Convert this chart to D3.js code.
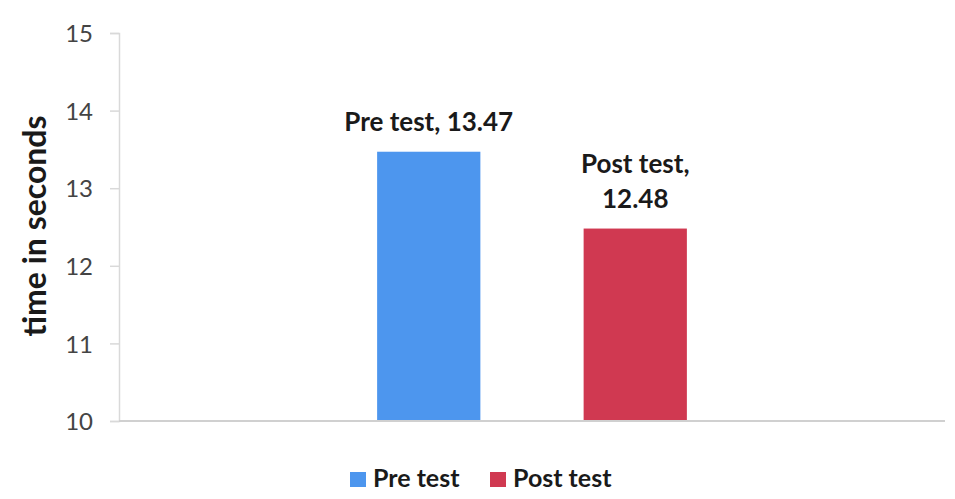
<!DOCTYPE html>
<html>
<head>
<meta charset="utf-8">
<script src="https://cdn.jsdelivr.net/npm/d3@7"></script>
<style>
  body { margin: 0; background: #fff; }
  svg { font-family: Lato, "Open Sans", sans-serif; }
</style>
</head>
<body>
<div class="chart"></div>
<script>
var width = 955, height = 499;
var margin = {top: 33, right: 10, bottom: 78, left: 119};

// data
var categories = [""];
var series = ["Pre test", "Post test"];
var values = [13.47, 12.48];
var colors = ["#4d96ee", "#d03951"];
var yTicks = [10, 11, 12, 13, 14, 15];

var w = width - margin.left - margin.right,
    h = height - margin.top - margin.bottom;

var svg = d3.select(".chart").append("svg")
  .attr("width", width)
  .attr("height", height);

var g = svg.append("g")
  .attr("transform", "translate(" + margin.left + "," + margin.top + ")");

var y = d3.scaleLinear().domain([10, 15]).range([h, 0]);

var x0 = d3.scaleBand().domain(categories).range([0, w])
  .paddingInner(0.25).paddingOuter(0.125);
var x1 = d3.scaleBand().domain(series).range([0, x0.bandwidth()])
  .paddingInner(0.5).paddingOuter(0.75);

// y axis
var yAxis = g.append("g")
  .call(d3.axisLeft(y).tickValues(yTicks).tickFormat(d3.format("d")).tickSize(9).tickPadding(17))
  .attr("font-family", "Lato, sans-serif")
  .attr("font-size", 24);
yAxis.select(".domain").attr("stroke", "#d9d9d9").attr("stroke-width", 1.5);
yAxis.selectAll(".tick line").attr("stroke", "#d9d9d9").attr("stroke-width", 1.5);
yAxis.selectAll(".tick text")
  .attr("fill", "#444")
  .attr("dy", "0.36em");

// bars
var bars = g.append("g").attr("transform", "translate(" + x0(categories[0]) + ",0)");
bars.selectAll("rect")
  .data(series)
  .join("rect")
  .attr("x", function (d) { return x1(d); })
  .attr("y", function (d, i) { return y(values[i]); })
  .attr("width", x1.bandwidth())
  .attr("height", function (d, i) { return h - y(values[i]); })
  .attr("fill", function (d, i) { return colors[i]; });

// x axis line drawn over bar bottoms
g.append("line")
  .attr("x1", 0).attr("x2", w)
  .attr("y1", y(10)).attr("y2", y(10))
  .attr("stroke", "#d0d0d0").attr("stroke-width", 2);

// data labels
var labels = bars.selectAll("text.lbl")
  .data(series)
  .join("text")
  .attr("class", "lbl")
  .attr("text-anchor", "middle")
  .attr("fill", "#1a1a1a")
  .style("font-size", "26px")
  .style("font-weight", "bold")
  .attr("x", function (d) { return x1(d) + x1.bandwidth() / 2; });

labels.each(function (d, i) {
  var t = d3.select(this);
  var yTop = y(values[i]) - 21;
  var cx = x1(d) + x1.bandwidth() / 2;
  if (i === 0) {
    t.append("tspan").attr("x", cx).attr("y", yTop)
      .text(d + ", " + values[i].toFixed(2));
  } else {
    t.append("tspan").attr("x", cx).attr("y", yTop - 35)
      .text(d + ",");
    t.append("tspan").attr("x", cx).attr("y", yTop)
      .text(values[i].toFixed(2));
  }
});

// y title
svg.append("text")
  .attr("transform", "translate(46,226) rotate(-90)")
  .attr("text-anchor", "middle")
  .attr("fill", "#1a1a1a")
  .style("font-size", "32px")
  .style("font-weight", "bold")
  .text("time in seconds");

// legend
var legX = [350, 490];
var legend = svg.append("g");
var item = legend.selectAll("g")
  .data(series)
  .join("g")
  .attr("transform", function (d, i) { return "translate(" + legX[i] + ",472)"; });
item.append("rect")
  .attr("width", 16).attr("height", 15)
  .attr("fill", function (d, i) { return colors[i]; });
item.append("text")
  .attr("x", 23).attr("y", 15)
  .attr("fill", "#1a1a1a")
  .style("font-size", "25px")
  .style("font-weight", "bold")
  .text(function (d) { return d; });
</script>
</body>
</html>
